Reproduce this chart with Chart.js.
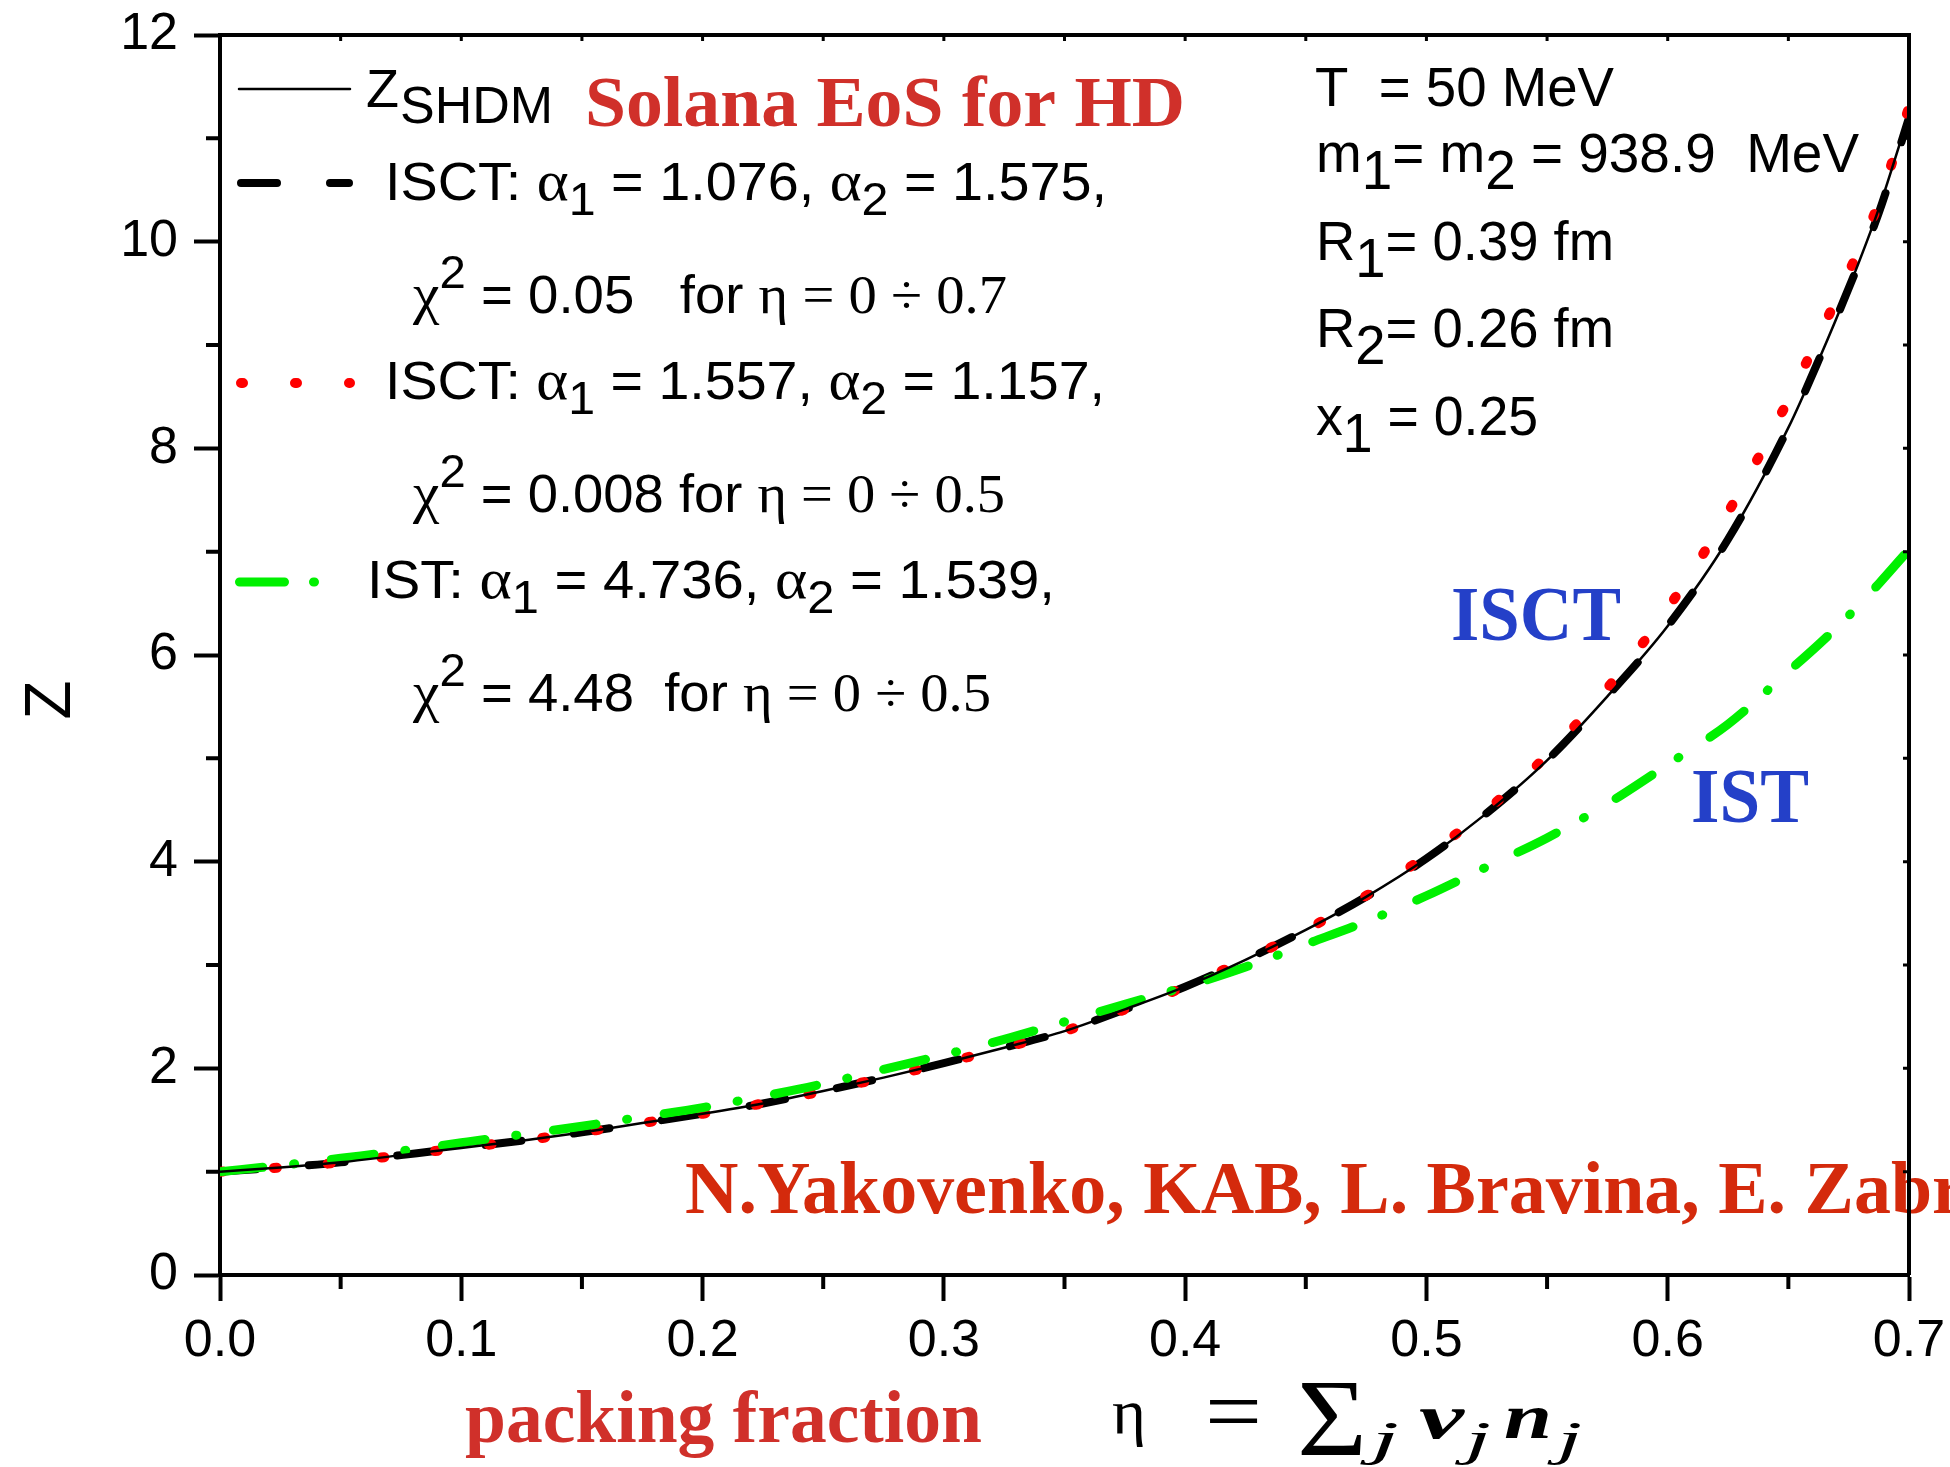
<!DOCTYPE html>
<html>
<head>
<meta charset="utf-8">
<script src="https://cdn.jsdelivr.net/npm/chart.js@4.4.1/dist/chart.umd.min.js"></script>
<style>
body{margin:0;background:#fff;}
canvas{display:block;}
</style>
</head>
<body>
<canvas id="zChart" width="1950" height="1467"></canvas>
<script>
// packing fraction eta and compressibility Z
const etaVals = [0, 0.025, 0.05, 0.075, 0.1, 0.125, 0.15, 0.175, 0.2, 0.225, 0.25, 0.275, 0.3, 0.325, 0.35,
  0.375, 0.4, 0.425, 0.45, 0.475, 0.5, 0.525, 0.55, 0.575, 0.6, 0.625, 0.65, 0.6625, 0.675, 0.6875, 0.7];
const zShdm = [1.00, 1.04, 1.09, 1.16, 1.23, 1.30, 1.38, 1.47, 1.56, 1.66, 1.78, 1.91, 2.05, 2.20, 2.36,
  2.57, 2.79, 3.05, 3.34, 3.66, 4.03, 4.47, 4.98, 5.60, 6.28, 7.12, 8.20, 8.85, 9.55, 10.32, 11.23];
const zIsct1 = [1.00, 1.04, 1.09, 1.16, 1.23, 1.30, 1.38, 1.47, 1.56, 1.66, 1.78, 1.91, 2.05, 2.20, 2.36,
  2.57, 2.79, 3.05, 3.34, 3.66, 4.03, 4.47, 4.98, 5.60, 6.28, 7.12, 8.20, 8.85, 9.55, 10.28, 11.20];
const zIsct2 = [1.00, 1.04, 1.09, 1.16, 1.23, 1.30, 1.38, 1.47, 1.56, 1.66, 1.78, 1.91, 2.05, 2.20, 2.36,
  2.57, 2.79, 3.05, 3.34, 3.67, 4.06, 4.50, 5.03, 5.68, 6.45, 7.38, 8.47, 9.08, 9.70, 10.38, 11.30];
const zIst = [1.00, 1.06, 1.13, 1.20, 1.28, 1.36, 1.44, 1.53, 1.62, 1.73, 1.85, 1.99, 2.13, 2.28, 2.45,
  2.62, 2.79, 2.98, 3.20, 3.42, 3.67, 3.95, 4.23, 4.56, 4.94, 5.33, 5.84, 6.10, 6.38, 6.69, 7.02];

const xTickVals = [0, 0.1, 0.2, 0.3, 0.4, 0.5, 0.6, 0.7];
const xTickLabels = ['0.0', '0.1', '0.2', '0.3', '0.4', '0.5', '0.6', '0.7'];
const xMinor = [0.05, 0.15, 0.25, 0.35, 0.45, 0.55, 0.65];
const yTickVals = [0, 2, 4, 6, 8, 10, 12];
const yTickLabels = ['0', '2', '4', '6', '8', '10', '12'];
const yMinor = [1, 3, 5, 7, 9, 11];

const SANS = '"Liberation Sans", Arial, sans-serif';
const SERIF = '"Liberation Serif", "Times New Roman", serif';

function pts(arr) {
  return etaVals.map((e, i) => ({x: e, y: arr[i]}));
}

// draws a run of text pieces [text, font, dy], squeezed to width if given
function fitText(ctx, parts, x, y, width, color) {
  ctx.save();
  ctx.fillStyle = color || '#000';
  ctx.textAlign = 'left';
  ctx.textBaseline = 'alphabetic';
  let total = 0;
  parts.forEach(p => { ctx.font = p[1]; total += ctx.measureText(p[0]).width; });
  ctx.translate(x, y);
  if (width) ctx.scale(width / total, 1);
  let cx = 0;
  parts.forEach(p => {
    ctx.font = p[1];
    ctx.fillText(p[0], cx, p[2] || 0);
    cx += ctx.measureText(p[0]).width;
  });
  ctx.restore();
}

function sample(ctx, x1, x2, y, w, color, dash) {
  ctx.save();
  ctx.strokeStyle = color;
  ctx.lineWidth = w;
  ctx.lineCap = 'round';
  ctx.setLineDash(dash);
  ctx.beginPath();
  ctx.moveTo(x1, y);
  ctx.lineTo(x2, y);
  ctx.stroke();
  ctx.restore();
}

const f53 = '53px ' + SANS;
const f55 = '55px ' + SANS;
const fSub = '46px ' + SANS;
const fGr = '58px ' + SERIF;
const fEq = '55px ' + SERIF;
const RED = '#d0302a';
const BLUE = '#2440c8';
const fJ = 'italic 48px ' + SERIF;
const fVN = 'italic bold 64px ' + SERIF;

const extras = {
  id: 'extras',
  afterDraw(chart) {
    const {ctx, chartArea: a, scales: {x, y}} = chart;

    // legend
    sample(ctx, 239, 350, 89, 2.5, '#000', []);
    fitText(ctx, [['Z', '54px ' + SANS]], 366, 107);
    fitText(ctx, [['SHDM', '52px ' + SANS]], 400, 123);
    fitText(ctx, [['Solana EoS for HD', 'bold 72px ' + SERIF]], 585, 126, 600, RED);

    sample(ctx, 241, 349, 183, 8, '#000', [36, 53]);
    fitText(ctx, [['ISCT: ', f53], ['\u03b1', fGr], ['1', fSub, 15], [' = 1.076, ', f53], ['\u03b1', fGr], ['2', fSub, 15], [' = 1.575,', f53]], 385, 200, 722);
    fitText(ctx, [['\u03c7', fGr], ['2', fSub, -25], [' = 0.05   for ', f53], ['\u03b7 = 0 \u00f7 0.7', fEq]], 413, 313, 594);

    sample(ctx, 241, 350, 383, 10, '#ff0000', [2, 52]);
    fitText(ctx, [['ISCT: ', f53], ['\u03b1', fGr], ['1', fSub, 15], [' = 1.557, ', f53], ['\u03b1', fGr], ['2', fSub, 15], [' = 1.157,', f53]], 385, 399, 720);
    fitText(ctx, [['\u03c7', fGr], ['2', fSub, -25], [' = 0.008 for ', f53], ['\u03b7 = 0 \u00f7 0.5', fEq]], 413, 512, 592);

    sample(ctx, 239.5, 320, 582, 9, '#00f000', [45, 29, 1, 100]);
    fitText(ctx, [['IST: ', f53], ['\u03b1', fGr], ['1', fSub, 15], [' = 4.736, ', f53], ['\u03b1', fGr], ['2', fSub, 15], [' = 1.539,', f53]], 367, 598, 688);
    fitText(ctx, [['\u03c7', fGr], ['2', fSub, -25], [' = 4.48  for ', f53], ['\u03b7 = 0 \u00f7 0.5', fEq]], 413, 711, 578);

    // parameters
    fitText(ctx, [['T  = 50 MeV', f55]], 1315, 106, 299);
    fitText(ctx, [['m', f55], ['1', f55, 17], ['= m', f55], ['2', f55, 17], [' = 938.9  MeV', f55]], 1316, 172, 543);
    fitText(ctx, [['R', f55], ['1', f55, 17], ['= 0.39 fm', f55]], 1316, 260, 298);
    fitText(ctx, [['R', f55], ['2', f55, 17], ['= 0.26 fm', f55]], 1316, 347, 298);
    fitText(ctx, [['x', f55], ['1', f55, 17], [' = 0.25', f55]], 1316, 435, 222);

    // curve labels
    fitText(ctx, [['ISCT', 'bold 78px ' + SERIF]], 1451, 640, 170, BLUE);
    fitText(ctx, [['IST', 'bold 78px ' + SERIF]], 1691, 822, 118, BLUE);

    // authors, running off the right edge
    ctx.save();
    ctx.font = 'bold 73px ' + SERIF;
    const shown = ctx.measureText('N.Yakovenko, KAB, L. Bravina, E. Zab').width;
    const full = ctx.measureText('N.Yakovenko, KAB, L. Bravina, E. Zabrodin').width;
    ctx.restore();
    fitText(ctx, [['N.Yakovenko, KAB, L. Bravina, E. Zabrodin', 'bold 73px ' + SERIF]], 685, 1213, full * 1247 / shown, '#d42a0c');

    // axis titles
    fitText(ctx, [['packing fraction', 'bold 75px ' + SERIF]], 465, 1442, 517, RED);
    fitText(ctx, [['\u03b7', '64px ' + SERIF]], 1112, 1433, 34);
    fitText(ctx, [['=', '90px ' + SERIF]], 1205, 1442, 57);
    fitText(ctx, [['\u03a3', '110px ' + SERIF]], 1297, 1455, 70);
    fitText(ctx, [['j', fJ]], 1371, 1455, 28);
    fitText(ctx, [['v', fVN]], 1419, 1438, 45);
    fitText(ctx, [['j', fJ]], 1465, 1455, 26);
    fitText(ctx, [['n', fVN]], 1504, 1438, 48);
    fitText(ctx, [['j', fJ]], 1557, 1455, 25);

    ctx.save();
    ctx.translate(70, 700);
    ctx.rotate(-Math.PI / 2);
    ctx.font = '64px ' + SANS;
    ctx.fillStyle = '#000';
    ctx.textAlign = 'center';
    ctx.fillText('Z', 0, 0);
    ctx.restore();

    // minor ticks, inner ticks, top and right frame
    ctx.save();
    ctx.strokeStyle = '#000';
    ctx.lineWidth = 4;
    ctx.beginPath();
    xMinor.forEach(v => { const px = x.getPixelForValue(v); ctx.moveTo(px, a.bottom); ctx.lineTo(px, a.bottom + 14); });
    yMinor.forEach(v => { const py = y.getPixelForValue(v); ctx.moveTo(a.left, py); ctx.lineTo(a.left - 14, py); });
    ctx.stroke();
    ctx.lineWidth = 3;
    ctx.beginPath();
    xMinor.concat(xTickVals).forEach(v => { const px = x.getPixelForValue(v); ctx.moveTo(px, a.top); ctx.lineTo(px, a.top + 6); });
    yMinor.concat(yTickVals).forEach(v => { const py = y.getPixelForValue(v); ctx.moveTo(a.right, py); ctx.lineTo(a.right - 6, py); });
    ctx.stroke();
    ctx.lineWidth = 4;
    ctx.beginPath();
    ctx.moveTo(a.left, a.top);
    ctx.lineTo(a.right, a.top);
    ctx.lineTo(a.right, a.bottom);
    ctx.stroke();
    ctx.restore();
  }
};

Chart.defaults.font.family = SANS;

new Chart(document.getElementById('zChart'), {
  type: 'line',
  data: {
    datasets: [
      {label: 'Z_SHDM', data: pts(zShdm), borderColor: '#000', borderWidth: 2.5, order: 0},
      {label: 'IST', data: pts(zIst), borderColor: '#00f000', borderWidth: 9, borderDash: [43, 31, 1, 37], borderCapStyle: 'round', order: 1},
      {label: 'ISCT 1.557/1.157', data: pts(zIsct2), borderColor: '#ff0000', borderWidth: 10, borderDash: [3, 51], borderCapStyle: 'round', order: 2},
      {label: 'ISCT 1.076/1.575', data: pts(zIsct1), borderColor: '#000', borderWidth: 8, borderDash: [36, 53], borderCapStyle: 'round', order: 3}
    ]
  },
  options: {
    responsive: false,
    animation: false,
    devicePixelRatio: 1,
    parsing: false,
    elements: {
      point: {radius: 0},
      line: {cubicInterpolationMode: 'monotone', fill: false}
    },
    layout: {padding: {left: 0, top: 35, right: 41, bottom: 0}},
    plugins: {legend: {display: false}, tooltip: {enabled: false}},
    scales: {
      x: {
        type: 'linear', min: 0, max: 0.7,
        afterFit: s => { s.height = 192; s.paddingLeft = 0; s.paddingRight = 0; },
        afterBuildTicks: s => { s.ticks = xTickVals.map(v => ({value: v})); },
        ticks: {callback: (v, i) => xTickLabels[i], font: {size: 52}, color: '#000', padding: 9, maxRotation: 0, autoSkip: false},
        grid: {drawOnChartArea: false, drawTicks: true, tickLength: 26, tickWidth: 4, tickColor: '#000', color: '#000'},
        border: {display: true, color: '#000', width: 4}
      },
      y: {
        type: 'linear', min: 0, max: 12,
        afterFit: s => { s.width = 220; s.paddingTop = 0; s.paddingBottom = 0; },
        afterBuildTicks: s => { s.ticks = yTickVals.map(v => ({value: v})); },
        ticks: {callback: (v, i) => yTickLabels[i], font: {size: 52}, color: '#000', padding: 16, autoSkip: false},
        grid: {drawOnChartArea: false, drawTicks: true, tickLength: 26, tickWidth: 4, tickColor: '#000', color: '#000'},
        border: {display: true, color: '#000', width: 4}
      }
    }
  },
  plugins: [extras]
});
</script>
</body>
</html>
